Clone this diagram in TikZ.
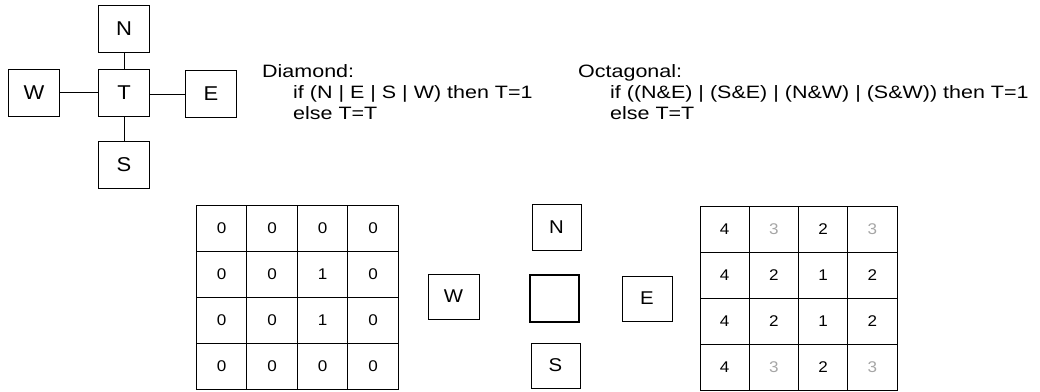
\documentclass[tikz,border=0pt]{standalone}
\usepackage{fontspec}
\setmainfont{Liberation Sans}
\newfontfamily\widefont[FakeStretch=1.2]{Liberation Sans}
\newfontfamily\boxfont[FakeStretch=1.1]{Liberation Sans}
\newcommand\rulefont{\widefont\fontsize{17.9}{21}\selectfont}
\begin{document}
\begin{tikzpicture}[x=1pt,y=-1pt,
  box/.style={draw, line width=0.7pt, minimum width=51pt, minimum height=47pt, inner sep=0pt, font=\boxfont\fontsize{20}{22}\selectfont},
  mbox/.style={box, font=\boxfont\fontsize{18.5}{20}\selectfont},
  cell/.style={draw, line width=0.6pt, minimum width=50.5pt, minimum height=46pt, inner sep=0pt, font=\boxfont\fontsize{15.5}{17}\selectfont},
  txt/.style={anchor=base west, inner sep=0pt, font=\rulefont},
  link/.style={line width=0.6pt}]
\useasboundingbox (0,0) rectangle (1040,391);
% top cross
\node[box] (N) at (124,28.5) {N};
\node[box] (T) at (124,92.5) {T};
\node[box] (W) at (34,92.5) {W};
\node[box] (E) at (211,94) {E};
\node[box] (S) at (124,164.5) {S};
\draw[link] (N) -- (T);
\draw[link] (W) -- (T);
\draw[link] (T.east |- E.west) -- (E.west);
\draw[link] (T) -- (S);
% rules
\node[txt] (d1) at (262,77) {Diamond:};
\node[txt] (d2) at (293,98) {if (N | E | S | W) then T=1};
\node[txt] (d3) at (293,119) {else T=T};
\node[txt] (o1) at (578,77) {Octagonal:};
\node[txt] (o2) at (610,98) {if ((N\&E) | (S\&E) | (N\&W) | (S\&W)) then T=1};
\node[txt] (o3) at (610,119) {else T=T};
% left grid
\foreach \r [count=\i from 0] in {{0,0,0,0},{0,0,1,0},{0,0,1,0},{0,0,0,0}} {
  \foreach \v [count=\j from 0] in \r {
    \node[cell] (L\i\j) at ({221.5+50.5*\j},{228+46*\i}) {\v};
  }
}
% middle neighbourhood
\node[mbox, minimum width=49pt, minimum height=46pt] (mN) at (556.5,227) {N};
\node[mbox, minimum width=49pt, minimum height=47pt, line width=1.5pt] (mT) at (554.5,298.5) {};
\node[mbox, minimum width=49pt, minimum height=45pt] (mS) at (555.5,365.5) {S};
\node[mbox, minimum width=51pt, minimum height=45pt] (mW) at (453.5,296.5) {W};
\node[mbox, minimum width=50pt, minimum height=45pt] (mE) at (647,298.5) {E};
% right grid
\foreach \i in {0,...,3} {
  \foreach \j in {0,...,3} {
    \node[cell, minimum width=49.25pt] (R\i\j) at ({724.6+49.25*\j},{229+46*\i}) {};
  }
}
\foreach \i/\j/\v/\c in {0/0/4/black,0/1/3/gray!70,0/2/2/black,0/3/3/gray!70,
  1/0/4/black,1/1/2/black,1/2/1/black,1/3/2/black,
  2/0/4/black,2/1/2/black,2/2/1/black,2/3/2/black,
  3/0/4/black,3/1/3/gray!70,3/2/2/black,3/3/3/gray!70} {
  \node[text=\c, font=\boxfont\fontsize{15.5}{17}\selectfont] (V\i\j) at (R\i\j) {\v};
}
\end{tikzpicture}
\end{document}
